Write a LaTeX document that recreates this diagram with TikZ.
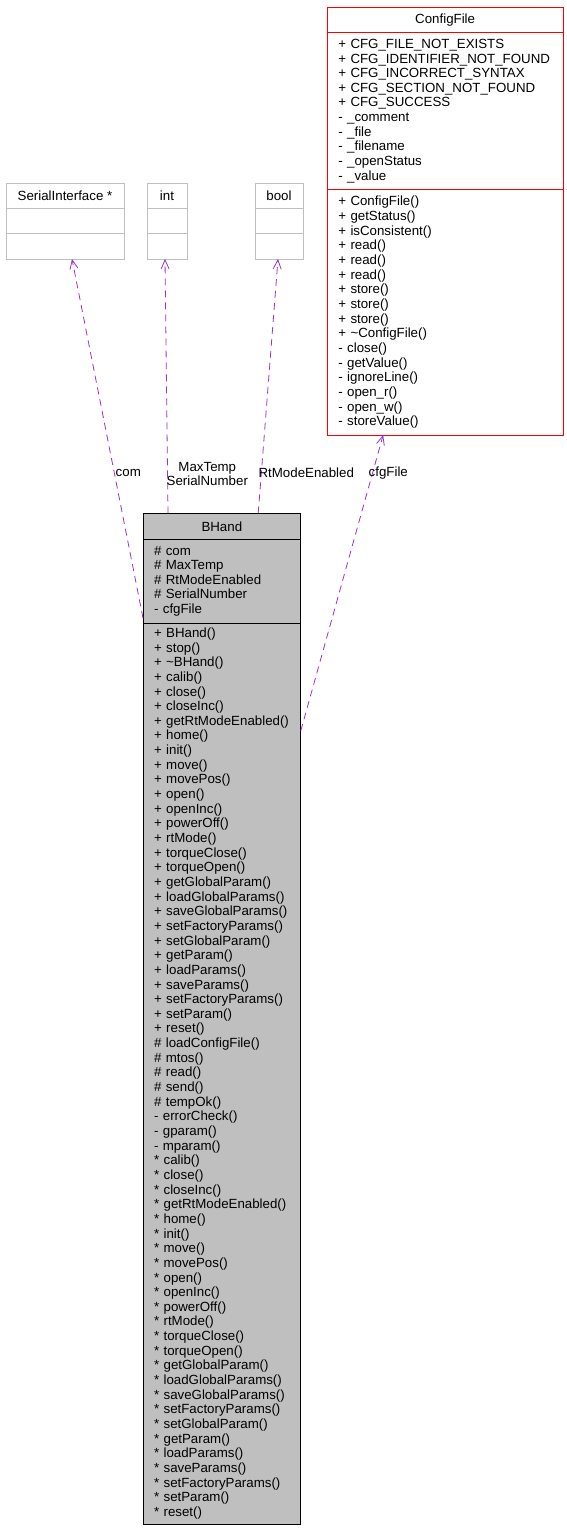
\documentclass[tikz,border=0pt]{standalone}
\usepackage{fontspec}
\setmainfont{Liberation Sans}
\usetikzlibrary{positioning,arrows.meta}

\definecolor{usedcolor}{HTML}{9A32CD}
\definecolor{classgray}{HTML}{BFBFBF}

\tikzset{
  classfont/.style={font=\fontsize{13.3}{14.65}\selectfont},
  classtitle/.style={classfont,draw,line width=0.9pt,outer sep=0pt,minimum height=25pt,inner sep=0pt,anchor=north west},
  classpart/.style={classfont,draw,line width=0.9pt,outer sep=0pt,align=left,inner xsep=11pt,inner ysep=0pt},
  uses/.style={draw=usedcolor,line width=0.8pt,dash pattern=on 7pt off 5pt,-{Straight Barb[length=9pt,width=8pt]}},
  edgelabel/.style={font=\fontsize{13.3}{14}\selectfont,align=center,inner sep=0pt}
}

\begin{document}
\begin{tikzpicture}[x=1pt,y=-1pt]
  \useasboundingbox (0,0) rectangle (567,1533);

  % used classes
  \node[classtitle,draw=red,minimum width=235.7pt] (cfg) at (327.3,7.3) {ConfigFile};
  \node[classpart,draw=red,text width=213.7pt,minimum height=157.4pt,below=0pt of cfg] (cfg-attr)
    {+ CFG\_FILE\_NOT\_EXISTS\\+ CFG\_IDENTIFIER\_NOT\_FOUND\\+ CFG\_INCORRECT\_SYNTAX\\
     + CFG\_SECTION\_NOT\_FOUND\\+ CFG\_SUCCESS\\- \_comment\\- \_file\\- \_filename\\
     - \_openStatus\\- \_value};
  \node[classpart,draw=red,text width=213.7pt,minimum height=245.3pt,below=0pt of cfg-attr] (cfg-ops)
    {+ ConfigFile()\\+ getStatus()\\+ isConsistent()\\+ read()\\+ read()\\+ read()\\
     + store()\\+ store()\\+ store()\\+ \textasciitilde ConfigFile()\\- close()\\
     - getValue()\\- ignoreLine()\\- open\_r()\\- open\_w()\\- storeValue()};

  \node[classtitle,draw=classgray,minimum width=118pt] (serial) at (6,183) {SerialInterface *};
  \node[classpart,draw=classgray,text width=96pt,minimum height=25pt,below=0pt of serial] (serial-attr) {};
  \node[classpart,draw=classgray,text width=96pt,minimum height=26pt,below=0pt of serial-attr] (serial-ops) {};

  \node[classtitle,draw=classgray,minimum width=40pt] (int) at (147,183) {int};
  \node[classpart,draw=classgray,text width=18pt,minimum height=25pt,below=0pt of int] (int-attr) {};
  \node[classpart,draw=classgray,text width=18pt,minimum height=26pt,below=0pt of int-attr] (int-ops) {};

  \node[classtitle,draw=classgray,minimum width=48pt] (bool) at (255,183) {bool};
  \node[classpart,draw=classgray,text width=26pt,minimum height=25pt,below=0pt of bool] (bool-attr) {};
  \node[classpart,draw=classgray,text width=26pt,minimum height=26pt,below=0pt of bool-attr] (bool-ops) {};

  % the documented class
  \node[classtitle,fill=classgray,minimum width=157.7pt,minimum height=26pt] (bhand) at (143,513.3) {BHand};
  \node[classpart,fill=classgray,text width=135.7pt,minimum height=83.7pt,below=0pt of bhand] (bhand-attr)
    {\# com\\\# MaxTemp\\\# RtModeEnabled\\\# SerialNumber\\- cfgFile};
  \node[classpart,fill=classgray,text width=135.7pt,minimum height=901pt,below=0pt of bhand-attr] (bhand-ops)
    {+ BHand()\\+ stop()\\+ \textasciitilde BHand()\\+ calib()\\+ close()\\+ closeInc()\\
     + getRtModeEnabled()\\+ home()\\+ init()\\+ move()\\+ movePos()\\+ open()\\+ openInc()\\
     + powerOff()\\+ rtMode()\\+ torqueClose()\\+ torqueOpen()\\+ getGlobalParam()\\
     + loadGlobalParams()\\+ saveGlobalParams()\\+ setFactoryParams()\\+ setGlobalParam()\\
     + getParam()\\+ loadParams()\\+ saveParams()\\+ setFactoryParams()\\+ setParam()\\+ reset()\\
     \# loadConfigFile()\\\# mtos()\\\# read()\\\# send()\\\# tempOk()\\
     - errorCheck()\\- gparam()\\- mparam()\\
     {*} calib()\\{*} close()\\{*} closeInc()\\{*} getRtModeEnabled()\\{*} home()\\{*} init()\\
     {*} move()\\{*} movePos()\\{*} open()\\{*} openInc()\\{*} powerOff()\\{*} rtMode()\\
     {*} torqueClose()\\{*} torqueOpen()\\{*} getGlobalParam()\\{*} loadGlobalParams()\\
     {*} saveGlobalParams()\\{*} setFactoryParams()\\{*} setGlobalParam()\\{*} getParam()\\
     {*} loadParams()\\{*} saveParams()\\{*} setFactoryParams()\\{*} setParam()\\{*} reset()};

  % usage relations
  \draw[uses] ([yshift=5pt]bhand-attr.south west) -- ([xshift=7pt]serial-ops.south);
  \draw[uses] ([xshift=25pt]bhand.north west) -- ([xshift=-2pt]int-ops.south);
  \draw[uses] ([xshift=-42.5pt]bhand.north east) -- ([xshift=-1pt]bool-ops.south);
  \draw[uses] ([yshift=-108pt]bhand-ops.north east) -- ([xshift=-62pt]cfg-ops.south);

  \node[edgelabel] (com-lbl) at (128.3,472.7) {com};
  \node[edgelabel] (int-lbl) at (207.3,473.7) {MaxTemp\\SerialNumber};
  \node[edgelabel] (bool-lbl) at (306.3,472.7) {RtModeEnabled};
  \node[edgelabel] (cfg-lbl) at (388.3,472.7) {cfgFile};
\end{tikzpicture}
\end{document}
